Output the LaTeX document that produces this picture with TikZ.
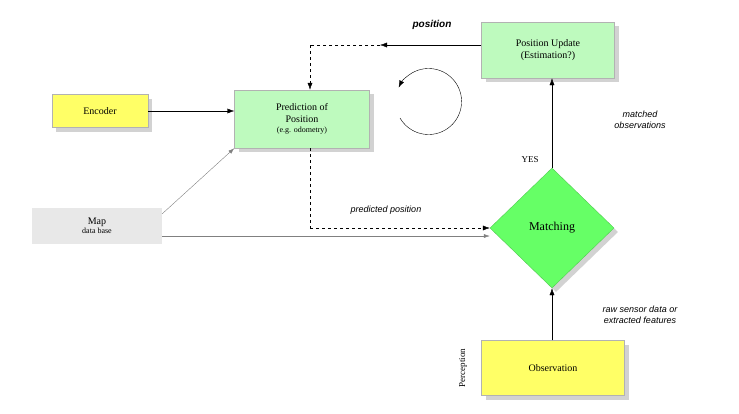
\documentclass[tikz,border=0pt]{standalone}
\usepackage{fontspec}
\setmainfont{Liberation Serif}
\newfontfamily\labelfont{Liberation Sans}
\usetikzlibrary{shapes.geometric,shadows,arrows.meta}
\definecolor{paleyellow}{RGB}{255,255,102}
\definecolor{palegreen}{RGB}{190,250,190}
\definecolor{brightgreen}{RGB}{102,255,102}
\definecolor{mapgray}{RGB}{232,232,232}
\tikzset{
  box/.style={draw=gray!60, drop shadow={shadow xshift=4pt, shadow yshift=-4pt, fill=gray!70}, align=center, inner sep=2pt},
  lbl/.style={font=\labelfont\itshape\small, align=center},
  arr/.style={-{Latex[length=7pt,width=5pt]}},
}
\begin{document}
\begin{tikzpicture}[x=1pt,y=-1pt]
  \useasboundingbox (0,0) rectangle (739,413);
  % boxes
  \node [box, fill=paleyellow, minimum width=96pt, minimum height=33pt] (encoder) at (100,111) {Encoder};
  \node [box, fill=palegreen, minimum width=135pt, minimum height=58pt] (predict) at (302,119) {Prediction of\\Position\\[-2pt]{\footnotesize (e.g. odometry)}};
  \node [box, fill=palegreen, minimum width=133pt, minimum height=56pt] (update) at (548,50) {Position Update\\(Estimation?)};
  \node [fill=mapgray, minimum width=130pt, minimum height=36pt, align=center, inner sep=1pt] (map) at (97,226) {Map\\[-3pt]{\footnotesize data base}};
  \node [box, diamond, fill=brightgreen, draw=brightgreen!80!black, minimum width=124pt, minimum height=120pt, inner sep=0pt, font=\large] (match) at (552,228) {Matching};
  \node [box, fill=paleyellow, minimum width=143pt, minimum height=55pt] (obs) at (553,368) {Observation};
  \node [rotate=90, font=\small] (percep) at (463,368) {Perception};
  % connectors
  \coordinate (posarrow) at (380,45);
  \coordinate (poscorner) at (310,45);
  \coordinate (predcorner) at (310,228);
  \draw [arr] (update.west |- posarrow) -- (posarrow);
  \draw [dashed] (posarrow) -- (poscorner);
  \draw [dashed, arr] (poscorner) -- (predict.north -| poscorner);
  \draw [arr] (encoder) -- (predict.west |- encoder);
  \draw [gray, -{Latex[length=6pt,width=4pt]}] (map.north east) ++(0,6) -- (predict.south west);
  \draw [gray, -{Latex[length=6pt,width=4pt]}] (map.east |- 0,236) -- (match.west |- 0,236);
  \draw [dashed] (predict.south -| predcorner) -- (predcorner);
  \draw [dashed, arr] (predcorner) -- (match.west |- predcorner);
  \draw [arr] (match.north) -- (update.south -| match.north);
  \draw [arr] (obs.north -| match.south) -- (match.south);
  % cycle symbol
  \draw [-{Latex[length=7pt,width=5pt]}] (400,118) arc [start angle=150, end angle=-155, radius=33];
  % labels
  \node [font=\labelfont\bfseries\itshape] (poslbl) at (432,25) {position};
  \node [lbl] (matchlbl) at (640,120) {matched\\observations};
  \node [font=\small] (yes) at (530,160) {YES};
  \node [lbl] (predlbl) at (386,210) {predicted position};
  \node [lbl] (rawlbl) at (640,315) {raw sensor data or\\extracted features};
\end{tikzpicture}
\end{document}
